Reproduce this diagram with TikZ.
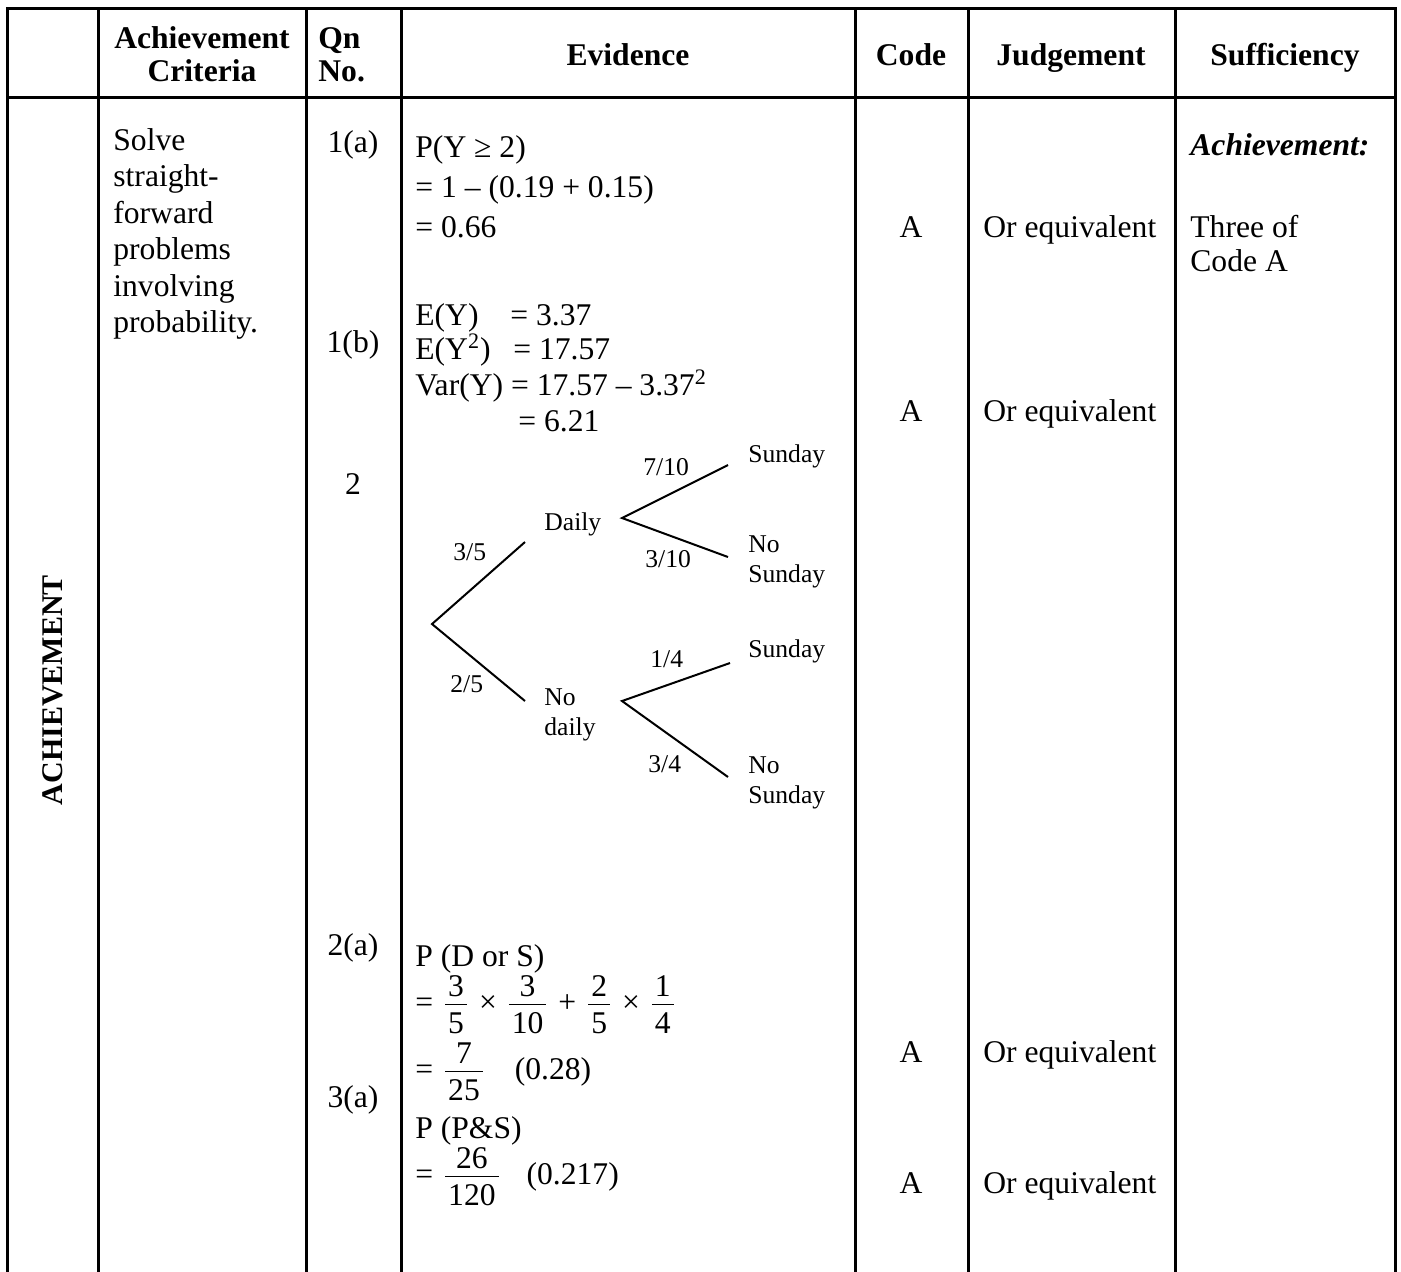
\documentclass[tikz,border=0pt]{standalone}
\usepackage{fontspec}
\setmainfont{Liberation Serif}
\newcommand\wfr[2]{\ensuremath{\vcenter{\offinterlineskip\halign{\hfil\kern1.5pt##\kern1.5pt\hfil\cr\vphantom{0}#1\cr\noalign{\kern3.2pt\hrule height 0.75pt\kern3.6pt}\vphantom{0}#2\cr}}}}
\newcommand\gp{\hspace{6pt}}
\begin{document}
\begin{tikzpicture}[x=0.5pt,y=-0.5pt,
  body/.style={font=\fontsize{15.8}{18.2}\selectfont, inner sep=0pt},
  bodyl/.style={body, anchor=base west},
  bodyc/.style={body, anchor=base},
  hd/.style={font=\fontsize{15.8}{18.2}\selectfont\bfseries, inner sep=0pt, anchor=base},
  tr/.style={font=\fontsize{12.8}{15}\selectfont, inner sep=0pt, anchor=base west},
  grid/.style={line width=1.5pt, line cap=rect},
  branch/.style={line width=1pt}]
\useasboundingbox (0,0) rectangle (1401,1271);
% table rules
\draw[grid] (7,8) -- (1395,8);
\draw[grid] (7,97) -- (1395,97);
\foreach \x in {7,98,306,401,855,968,1175,1395} \draw[grid] (\x,8) -- (\x,1271);
% header
\node[hd] (hA1) at (202,48) {Achievement};
\node[hd] (hA2) at (202,81) {Criteria};
\node[hd, anchor=base west] (hQ1) at (318,48) {Qn};
\node[hd, anchor=base west] (hQ2) at (318,81) {No.};
\node[hd] (hEv) at (628,65) {Evidence};
\node[hd] (hCo) at (911,65) {Code};
\node[hd] (hJu) at (1071,65) {Judgement};
\node[hd] (hSu) at (1285,65) {Sufficiency};
% side label
\node[font=\fontsize{15}{18}\selectfont\bfseries, inner sep=0pt, rotate=90] (side) at (53,690) {ACHIEVEMENT};
% criteria
\node[bodyl] (cr1) at (113,150) {Solve};
\node[bodyl] (cr2) at (113,186) {straight-};
\node[bodyl] (cr3) at (113,223) {forward};
\node[bodyl] (cr4) at (113,259) {problems};
\node[bodyl] (cr5) at (113,296) {involving};
\node[bodyl] (cr6) at (113,332) {probability.};
% question numbers
\node[bodyc] (q1) at (353,152) {1(a)};
\node[bodyc] (q2) at (353,352) {1(b)};
\node[bodyc] (q3) at (353,494) {2};
\node[bodyc] (q4) at (353,955) {2(a)};
\node[bodyc] (q5) at (353,1107) {3(a)};
% evidence 1(a)
\node[bodyl] (e1) at (415,157) {P(Y ≥ 2)};
\node[bodyl] (e2) at (415,197) {= 1 – (0.19 + 0.15)};
\node[bodyl] (e3) at (415,237) {= 0.66};
% evidence 1(b)
\node[bodyl] (e4) at (415,325) {E(Y)};
\node[bodyl] (e4b) at (510,325) {= 3.37};
\node[bodyl] (e5) at (415,359) {E(Y\textsuperscript{2})};
\node[bodyl] (e5b) at (513,359) {= 17.57};
\node[bodyl] (e6) at (415,395) {Var(Y) = 17.57 – 3.37\textsuperscript{2}};
\node[bodyl] (e7) at (518,431) {= 6.21};
% tree
\coordinate (root) at (432,624);
\coordinate (dEnd) at (525,542);
\coordinate (nEnd) at (525,701);
\coordinate (dO) at (622,518);
\coordinate (dS) at (728,465);
\coordinate (dN) at (728,557);
\coordinate (nO) at (622,701);
\coordinate (nS) at (730,663);
\coordinate (nN) at (728,777);
\draw[branch] (dEnd) -- (root) -- (nEnd);
\draw[branch] (dS) -- (dO) -- (dN);
\draw[branch] (nS) -- (nO) -- (nN);
\node[tr] (t1) at (748,462) {Sunday};
\node[tr] (t2) at (643,475) {7/10};
\node[tr] (t3) at (544,530) {Daily};
\node[tr] (t4) at (645,567) {3/10};
\node[tr] (t5) at (748,552) {No};
\node[tr] (t6) at (748,582) {Sunday};
\node[tr] (t7) at (453,560) {3/5};
\node[tr] (t8) at (450,692) {2/5};
\node[tr] (t9) at (544,705) {No};
\node[tr] (t10) at (544,735) {daily};
\node[tr] (t11) at (650,667) {1/4};
\node[tr] (t12) at (748,657) {Sunday};
\node[tr] (t13) at (648,772) {3/4};
\node[tr] (t14) at (748,773) {No};
\node[tr] (t15) at (748,803) {Sunday};
% evidence 2(a)
\node[bodyl] (f1) at (415,966) {P (D or S)};
\node[bodyl] (f2) at (415,1012) {=\gp\wfr{3}{5}\gp×\gp\wfr{3}{10}\gp+\gp\wfr{2}{5}\gp×\gp\wfr{1}{4}};
\node[bodyl] (f3) at (415,1079) {=\gp\wfr{7}{25}\hspace{16pt}(0.28)};
% evidence 3(a)
\node[bodyl] (g1) at (415,1138) {P (P\&S)};
\node[bodyl] (g2) at (415,1184) {=\gp\wfr{26}{120}\hspace{14pt}(0.217)};
% code and judgement
\node[bodyc] (c1) at (911,237) {A};
\node[bodyl] (j1) at (983,237) {Or equivalent};
\node[bodyc] (c2) at (911,421) {A};
\node[bodyl] (j2) at (983,421) {Or equivalent};
\node[bodyc] (c3) at (911,1062) {A};
\node[bodyl] (j3) at (983,1062) {Or equivalent};
\node[bodyc] (c4) at (911,1193) {A};
\node[bodyl] (j4) at (983,1193) {Or equivalent};
% sufficiency
\node[bodyl, font=\fontsize{15.8}{18.2}\selectfont\bfseries\itshape] (s1) at (1190,155) {Achievement:};
\node[bodyl] (s2) at (1190,237) {Three of};
\node[bodyl] (s3) at (1190,271) {Code A};
\end{tikzpicture}
\end{document}
